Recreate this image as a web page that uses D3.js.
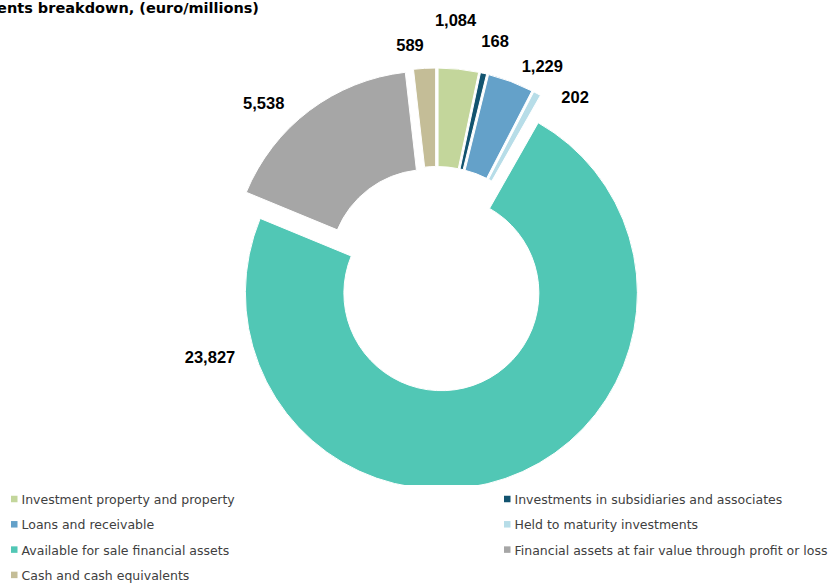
<!DOCTYPE html>
<html>
<head>
<meta charset="utf-8">
<script src="https://cdn.jsdelivr.net/npm/d3@7"></script>
<style>
  html, body { margin: 0; padding: 0; background: #ffffff; }
  svg { display: block; }
</style>
</head>
<body>
<svg id="chart" width="834" height="584"></svg>
<script>
// Investments breakdown (euro/millions)
const categories = [
  "Investment property and property",
  "Investments in subsidiaries and associates",
  "Loans and receivable",
  "Held to maturity investments",
  "Available for sale financial assets",
  "Financial assets at fair value through profit or loss",
  "Cash and cash equivalents"
];
const values = [1084, 168, 1229, 202, 23827, 5538, 589];
const colors = ["#c3d69b", "#12536f", "#64a1c9", "#b7dde8", "#51c7b5", "#a6a6a6", "#c4bd97"];

// Where each value label sits: direction (degrees clockwise from 12 o'clock)
// and distance measured from the exploded slice's centre.
const labelDirection = [4.1, 13.9, 26.8, 37.9, 254.6, 315.1, 353.3];
const labelDistance = [245, 230, 223, 214, 240, 232, 220];

const title = "Investments breakdown, (euro/millions)";

const W = 834, H = 584;
const cx = 436.5, cy = 279;
const outerR = 196, innerR = 97.5;
const explode = 15;
const plotBottom = 485;

const svg = d3.select("#chart");
const labelFont = "'Century Gothic', 'Liberation Sans', Arial, sans-serif";
const textFont = "'Century Gothic', 'DejaVu Sans', sans-serif";

// Title (runs off the left edge of the canvas)
svg.append("text")
  .attr("x", 259)
  .attr("y", 12.5)
  .attr("text-anchor", "end")
  .attr("font-family", textFont)
  .attr("font-weight", "bold")
  .attr("font-size", 14.5)
  .attr("fill", "#000")
  .text(title);

svg.append("defs").append("clipPath").attr("id", "plotClip")
  .append("rect").attr("x", 0).attr("y", 0).attr("width", W).attr("height", plotBottom);

const data = categories.map((c, i) => ({ name: c, value: values[i], color: colors[i], idx: i }));

const pie = d3.pie().sort(null).value(d => d.value).startAngle(0).endAngle(2 * Math.PI);
const arcs = pie(data);
const arc = d3.arc().innerRadius(innerR).outerRadius(outerR);

const plot = svg.append("g").attr("clip-path", "url(#plotClip)");
const ring = plot.append("g").attr("transform", `translate(${cx},${cy})`);

function offset(a) {
  const mid = (a.startAngle + a.endAngle) / 2;
  return [explode * Math.sin(mid), -explode * Math.cos(mid)];
}

ring.selectAll("path.slice")
  .data(arcs)
  .join("path")
  .attr("class", "slice")
  .attr("d", arc)
  .attr("transform", d => { const [dx, dy] = offset(d); return `translate(${dx},${dy})`; })
  .attr("fill", d => d.data.color)
  .attr("stroke", "#ffffff")
  .attr("stroke-width", 1);

const fmt = d3.format(",");
ring.selectAll("text.value")
  .data(arcs)
  .join("text")
  .attr("class", "value")
  .attr("x", d => {
    const [dx] = offset(d);
    const a = labelDirection[d.index] * Math.PI / 180;
    return dx + labelDistance[d.index] * Math.sin(a);
  })
  .attr("y", d => {
    const [, dy] = offset(d);
    const a = labelDirection[d.index] * Math.PI / 180;
    return dy - labelDistance[d.index] * Math.cos(a);
  })
  .attr("dy", "0.36em")
  .attr("text-anchor", "middle")
  .attr("font-family", labelFont)
  .attr("font-weight", "bold")
  .attr("font-size", 16.5)
  .attr("fill", "#000")
  .text(d => fmt(d.data.value));

// Legend: two columns, filled row by row
const legend = svg.append("g");
const colX = [11, 504];
const rowY0 = 499.5, rowStep = 25.3, sw = 6.5;
const items = legend.selectAll("g.item")
  .data(data)
  .join("g")
  .attr("class", "item")
  .attr("transform", (d, i) => `translate(${colX[i % 2]},${rowY0 + Math.floor(i / 2) * rowStep})`);
items.append("rect")
  .attr("x", 0).attr("y", -sw / 2 - 0.5)
  .attr("width", sw).attr("height", sw)
  .attr("fill", d => d.color);
items.append("text")
  .attr("x", sw + 4)
  .attr("y", 4.5)
  .attr("font-family", textFont)
  .attr("font-size", 12.5)
  .attr("fill", "#404040")
  .text(d => d.name);
</script>
</body>
</html>
